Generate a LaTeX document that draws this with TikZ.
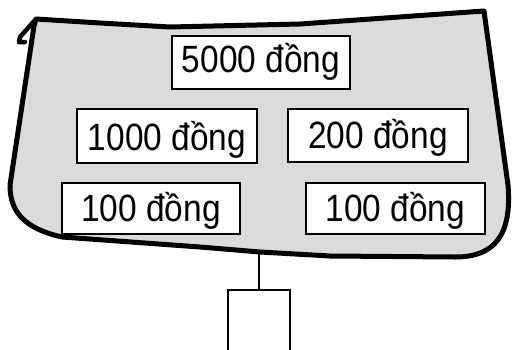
\documentclass[tikz,border=0pt]{standalone}
\usepackage{fontspec}
\setmainfont{Liberation Sans}
\usepackage{graphicx}
\definecolor{panelgray}{RGB}{219,219,219}
\newcommand{\moneytxt}[1]{\scalebox{0.88}[1]{#1}}
\begin{document}
\begin{tikzpicture}[x=1pt,y=-1pt,
  outline/.style={draw=black, line width=5pt, line join=round, line cap=round, fill=panelgray},
  moneybox/.style={draw=black, line width=2.2pt, fill=white, inner sep=0pt,
    font=\fontsize{38}{40}\selectfont},
  link/.style={draw=black, line width=1.5pt},
  tagbox/.style={draw=black, line width=2pt, fill=white, inner sep=0pt,
    minimum width=62pt, minimum height=80pt}]
\useasboundingbox (0,0) rectangle (515,349);
\clip (0,0) rectangle (515,349);
% board outline
\path[outline] (36,19) -- (100,23) -- (170,27) -- (300,24) -- (484,11)
  -- (508,185) .. controls (512,235) and (495,257) .. (455,257)
  -- (330,256) -- (260,252) -- (200,247) -- (62,237)
  .. controls (22,228) and (10,210) .. (10,185)
  -- (34,26) -- cycle;
\draw[line width=4.5pt, line cap=round, line join=round] (36,19) -- (20,37) -- (19,42) -- (25,42);
% money boxes
\node[moneybox, minimum width=178pt, text height=36pt, text depth=17pt] (m5000) at (261,62.5) {\moneytxt{5000 đồng}};
\node[moneybox, minimum width=180pt, text height=41pt, text depth=13pt] (m1000) at (167,136) {\moneytxt{1000 đồng}};
\node[moneybox, minimum width=180pt, text height=39pt, text depth=14pt] (m200) at (378,135.5) {\moneytxt{200 đồng}};
\node[moneybox, minimum width=178pt, text height=38pt, text depth=13pt] (m100a) at (151,208.5) {\moneytxt{100 đồng}};
\node[moneybox, minimum width=179pt, text height=38pt, text depth=13pt] (m100b) at (395.5,208.5) {\moneytxt{100 đồng}};
% hanging tag
\coordinate (hook) at (259,252);
\node[tagbox] (tag) at (259,330) {};
\draw[link] (hook) -- (tag.north);
\end{tikzpicture}
\end{document}
